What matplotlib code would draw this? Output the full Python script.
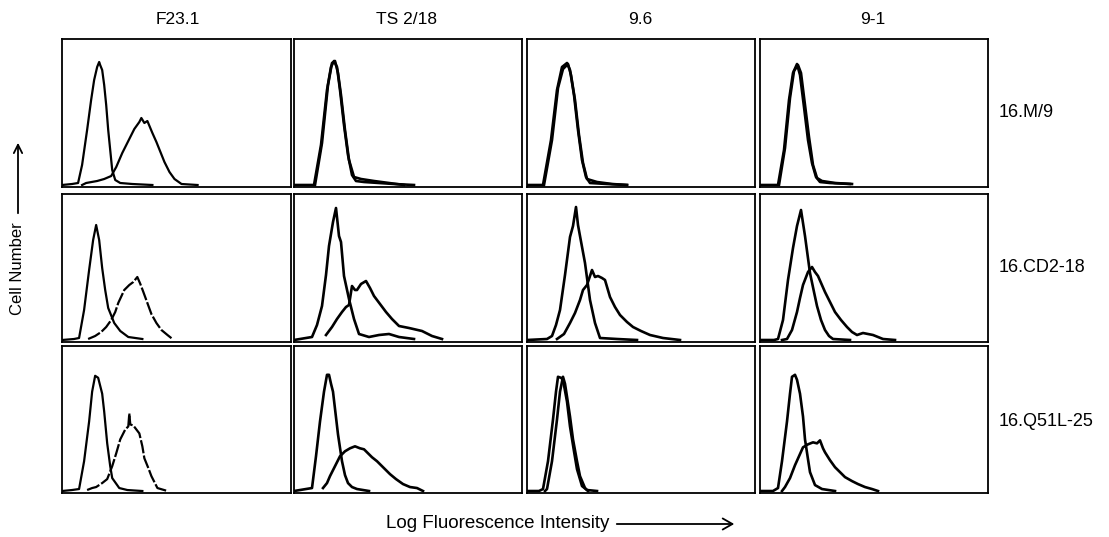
import numpy as np
import matplotlib
matplotlib.use('Agg')
import matplotlib.pyplot as plt

plt.rcParams['font.family'] = ['Liberation Sans', 'DejaVu Sans']

# antibodies (columns) and cell lines (rows)
antibodies = ['F23.1', 'TS 2/18', '9.6', '9-1']
cell_lines = ['16.M/9', '16.CD2-18', '16.Q51L-25']

# histogram curves: (channel, cell count)
# row 1 : 16.M/9
m9_f23_ctrl = [(0, 0), (10, 1), (16, 2), (20, 20), (25, 55), (29, 85), (32, 105), (35, 118), (37, 123), (38, 120),
               (40, 115), (42, 100), (44, 80), (46, 55), (48, 35), (50, 15), (53, 5), (58, 2), (70, 1), (90, 0)]
m9_f23_stain = [(20, 0), (24, 2), (35, 4), (42, 6), (49, 9), (54, 18), (60, 32), (67, 46), (72, 56), (77, 63),
                (79, 67), (82, 62), (85, 64), (90, 52), (94, 43), (98, 33), (102, 23), (107, 13), (112, 6), (119, 1), (135, 0)]
m9_ts_ctrl = [(0, 0), (20, 0), (27, 40), (33, 95), (37, 118), (40, 124), (43, 118), (46, 95), (50, 60), (54, 30),
              (58, 10), (62, 4), (70, 3), (85, 2), (100, 1), (120, 0)]
m9_ts_stain = [(21, 0), (28, 42), (34, 100), (38, 122), (41, 124), (44, 112), (47, 90), (51, 55), (55, 25), (60, 8),
               (67, 6), (80, 4), (95, 2), (110, 0)]
m9_96_ctrl = [(0, 0), (16, 0), (24, 45), (30, 95), (35, 118), (40, 122), (43, 115), (47, 90), (51, 55), (55, 25),
              (59, 8), (63, 2), (80, 1), (100, 0)]
m9_96_stain = [(17, 0), (25, 45), (31, 97), (36, 116), (41, 121), (44, 110), (48, 85), (52, 50), (56, 22), (60, 6),
               (70, 3), (85, 1), (100, 0)]
m9_91_ctrl = [(0, 0), (18, 0), (24, 35), (29, 85), (33, 112), (37, 121), (40, 110), (44, 78), (48, 45), (52, 22),
              (56, 8), (60, 3), (70, 2), (90, 1)]
m9_91_stain = [(19, 0), (25, 37), (30, 87), (34, 114), (38, 120), (41, 112), (45, 80), (49, 48), (53, 20), (57, 7),
               (62, 4), (75, 2), (92, 1)]

# row 2 : 16.CD2-18
cd2_f23_ctrl = [(0, 0), (12, 1), (17, 2), (22, 30), (27, 70), (31, 100), (34, 115), (37, 100), (40, 72), (43, 50),
                (46, 32), (52, 17), (58, 9), (66, 3), (80, 1)]
cd2_f23_stain = [(26, 1), (33, 4), (39, 8), (44, 13), (49, 20), (53, 28), (56, 37), (62, 50), (67, 55), (71, 58),
                 (75, 63), (78, 56), (81, 48), (85, 37), (89, 26), (94, 17), (99, 10), (105, 5), (110, 1)]
cd2_ts_ctrl = [(0, 0), (18, 3), (23, 15), (28, 34), (32, 65), (35, 94), (39, 118), (42, 132), (45, 104), (47, 98),
               (50, 64), (55, 41), (60, 21), (65, 6), (75, 3), (85, 5), (95, 6), (105, 3), (120, 1)]
cd2_ts_stain = [(32, 5), (38, 13), (43, 21), (48, 28), (52, 33), (55, 35), (58, 54), (61, 50), (63, 50), (67, 56),
                (72, 59), (76, 52), (80, 44), (86, 36), (92, 28), (98, 21), (105, 14), (115, 12), (128, 9), (138, 4), (148, 1)]
cd2_96_ctrl = [(0, 0), (20, 1), (25, 4), (29, 15), (33, 30), (38, 65), (43, 103), (46, 114), (49, 133), (51, 115),
               (53, 104), (58, 77), (63, 40), (68, 17), (73, 2), (90, 1), (110, 0)]
cd2_96_stain = [(30, 1), (37, 6), (43, 17), (48, 27), (53, 40), (56, 50), (60, 55), (65, 70), (68, 63), (71, 64),
                (75, 62), (78, 60), (83, 43), (88, 33), (93, 25), (100, 18), (106, 13), (114, 9), (123, 5), (136, 2), (153, 0)]
cd2_91_ctrl = [(0, 0), (14, 0), (18, 1), (23, 20), (28, 60), (33, 92), (37, 114), (41, 130), (45, 104), (50, 67),
               (54, 48), (57, 34), (61, 20), (65, 10), (69, 4), (73, 1), (90, 0)]
cd2_91_stain = [(22, 0), (27, 1), (32, 10), (37, 28), (40, 42), (43, 55), (48, 68), (52, 73), (55, 68), (58, 64),
                (65, 48), (70, 38), (75, 28), (81, 20), (87, 13), (92, 8), (97, 5), (103, 7), (108, 6), (113, 5), (123, 1), (135, 0)]

# row 3 : 16.Q51L-25
q51_f23_ctrl = [(0, 0), (10, 1), (17, 2), (22, 30), (27, 70), (30, 100), (33, 116), (36, 114), (40, 98), (42, 80),
                (45, 48), (48, 25), (50, 13), (57, 3), (65, 1), (80, 0)]
q51_f23_stain = [(25, 1), (30, 3), (34, 4), (40, 8), (45, 12), (50, 25), (54, 38), (58, 52), (63, 62), (66, 65),
                 (67, 78), (68, 67), (71, 66), (74, 62), (77, 58), (80, 45), (82, 33), (86, 23), (89, 15), (95, 3), (105, 0)]
q51_ts_ctrl = [(0, 0), (18, 3), (22, 35), (26, 70), (30, 100), (33, 117), (35, 117), (37, 108), (39, 100), (44, 57),
               (48, 30), (51, 16), (54, 8), (58, 4), (63, 2), (75, 0)]
q51_ts_stain = [(29, 3), (33, 8), (36, 15), (41, 25), (46, 35), (51, 40), (56, 43), (61, 45), (66, 43), (70, 42),
                (74, 38), (78, 34), (83, 30), (90, 23), (96, 17), (102, 12), (109, 7), (116, 4), (123, 3), (129, 0)]
q51_96_ctrl = [(0, 0), (12, 0), (16, 2), (21, 30), (26, 72), (29, 100), (31, 115), (34, 114), (36, 112), (40, 90),
               (43, 65), (47, 40), (50, 22), (55, 5), (60, 1), (70, 0)]
q51_96_stain = [(18, 0), (20, 2), (25, 30), (30, 72), (33, 100), (36, 115), (38, 108), (40, 95), (43, 75), (46, 52),
                (50, 30), (53, 15), (58, 3), (61, 0)]
q51_91_ctrl = [(0, 0), (13, 0), (18, 3), (22, 30), (27, 70), (30, 98), (32, 115), (35, 117), (37, 112), (40, 98),
               (43, 75), (45, 52), (48, 32), (50, 19), (55, 6), (62, 2), (75, 0)]
q51_91_stain = [(22, 0), (25, 4), (30, 13), (35, 26), (39, 35), (43, 44), (48, 47), (53, 49), (57, 48), (60, 51),
                (63, 43), (65, 39), (70, 31), (75, 24), (80, 19), (85, 14), (92, 10), (98, 7), (105, 4), (112, 2), (118, 0)]

curves = [
    [(m9_f23_ctrl, m9_f23_stain), (m9_ts_ctrl, m9_ts_stain), (m9_96_ctrl, m9_96_stain), (m9_91_ctrl, m9_91_stain)],
    [(cd2_f23_ctrl, cd2_f23_stain), (cd2_ts_ctrl, cd2_ts_stain), (cd2_96_ctrl, cd2_96_stain), (cd2_91_ctrl, cd2_91_stain)],
    [(q51_f23_ctrl, q51_f23_stain), (q51_ts_ctrl, q51_ts_stain), (q51_96_ctrl, q51_96_stain), (q51_91_ctrl, q51_91_stain)],
]

W, H = 1109, 537
fig = plt.figure(figsize=(W / 100, H / 100), dpi=100)

# panel boxes in pixels
col_x = [(62, 291), (294, 522), (527, 755), (760, 988)]
row_y = [(39, 187), (194, 342), (346, 493)]

for r, (y0, y1) in enumerate(row_y):
    for c, (x0, x1) in enumerate(col_x):
        ax = fig.add_axes([x0 / W, 1 - y1 / H, (x1 - x0) / W, (y1 - y0) / H])
        ctrl, stain = curves[r][c]
        ctrl = np.array(ctrl)
        stain = np.array(stain)
        ax.plot(ctrl[:, 0], ctrl[:, 1], color='black', lw=1.6 if c == 0 else 1.9)
        if c == 0 and r > 0:
            # F23.1 stained traces printed broken
            ax.plot(stain[:, 0], stain[:, 1], color='black', lw=1.6, ls=(0, (6, 1.0)))
        else:
            ax.plot(stain[:, 0], stain[:, 1], color='black', lw=1.6 if c == 0 else 1.9)
        ax.set_xlim(0, 228)
        ax.set_ylim(-2, 146)
        ax.set_xticks([])
        ax.set_yticks([])
        for s in ax.spines.values():
            s.set_linewidth(1.3)

# column titles
title_x = [178, 406, 640, 873]
for t, x in zip(antibodies, title_x):
    fig.text(x / W, 1 - 19 / H, t, ha='center', va='center', fontsize=12.5)

# row labels
row_ly = [113, 268, 421]
for t, y in zip(cell_lines, row_ly):
    fig.text(999 / W, 1 - y / H, t, ha='left', va='center', fontsize=13)

# axis labels with arrows
fig.text(18 / W, 1 - 269 / H, 'Cell Number', rotation=90, ha='center', va='center', fontsize=12)
fig.add_artist(matplotlib.patches.FancyArrowPatch((18 / W, 1 - 216 / H), (18 / W, 1 - 140 / H),
                                                  transform=fig.transFigure, arrowstyle='->,head_length=6,head_width=3',
                                                  lw=1.3, color='black'))
fig.text(498 / W, 1 - 523 / H, 'Log Fluorescence Intensity', ha='center', va='center', fontsize=13.5)
fig.add_artist(matplotlib.patches.FancyArrowPatch((614 / W, 1 - 524 / H), (737 / W, 1 - 524 / H),
                                                  transform=fig.transFigure, arrowstyle='->,head_length=7,head_width=4',
                                                  lw=1.3, color='black'))

fig.savefig('out.png', dpi=100)
